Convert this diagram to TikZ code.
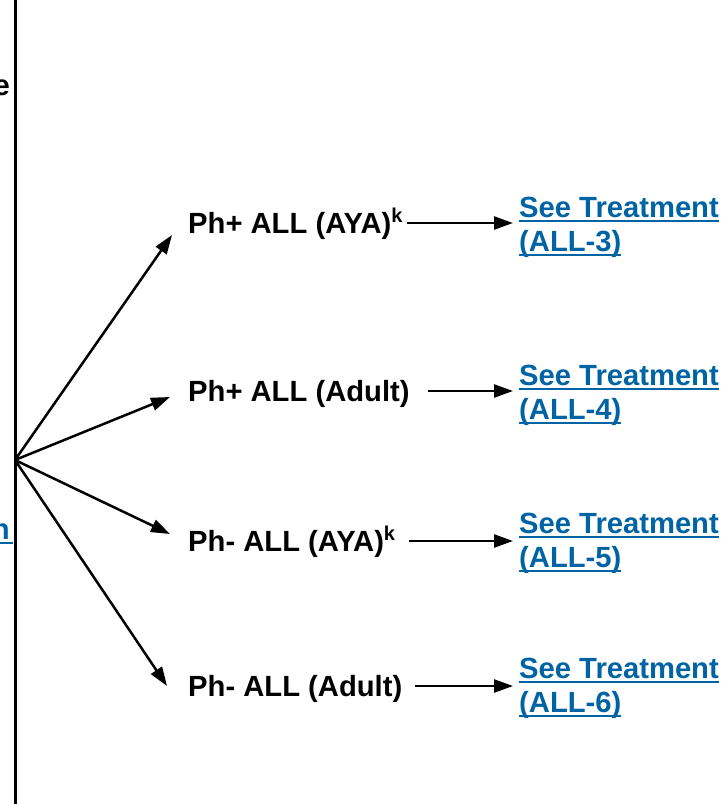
\documentclass[tikz,border=0pt]{standalone}
\usepackage{fontspec}
\setmainfont{Liberation Sans}
\usetikzlibrary{arrows.meta}
\definecolor{linkblue}{RGB}{0,100,164}
\newcommand\ulnk[1]{\setbox0\hbox{#1}\rlap{\rule[-5pt]{\wd0}{2.2pt}}\box0}
\newcommand\supk{\raisebox{11pt}{\fontsize{20}{20}\selectfont k}}
\begin{document}
\begin{tikzpicture}[x=1pt,y=-1pt,
  lbl/.style={font=\fontsize{29.2}{34}\selectfont\bfseries, inner sep=0pt, anchor=west, text height=20.8pt, text depth=0pt},
  lnk/.style={font=\fontsize{29.2}{34}\selectfont\bfseries, text=linkblue, inner sep=0pt, anchor=base west},
  arr/.style={line width=2.5pt, -{Triangle[length=19pt,width=13pt]}, shorten >=6pt}]
\useasboundingbox (0,0) rectangle (725,804);
\draw[line width=3pt] (15,0) -- (15,804);
\coordinate (hub) at (15,460);
\node[lnk, text=black, anchor=base east] (pe) at (10,95) {e};
\node[lnk, anchor=base east] (pn) at (13,539) {\ulnk{n\hspace{3pt}}};

\node[lbl] (t1) at (188,223) {Ph+ ALL (AYA)\supk};
\node[lbl] (t2) at (188,391) {Ph+ ALL (Adult)};
\node[lbl] (t3) at (188,541) {Ph- ALL (AYA)\supk};
\node[lbl] (t4) at (188,686) {Ph- ALL (Adult)};

\node[lnk] (l1a) at (519,217) {\ulnk{See Treatment}};
\node[lnk] (l1b) at (519,251) {\ulnk{(ALL-3)}};
\node[lnk] (l2a) at (519,385) {\ulnk{See Treatment}};
\node[lnk] (l2b) at (519,419) {\ulnk{(ALL-4)}};
\node[lnk] (l3a) at (519,533) {\ulnk{See Treatment}};
\node[lnk] (l3b) at (519,567) {\ulnk{(ALL-5)}};
\node[lnk] (l4a) at (519,678) {\ulnk{See Treatment}};
\node[lnk] (l4b) at (519,712) {\ulnk{(ALL-6)}};

\coordinate (e1) at (172,235);
\coordinate (e2) at (170,397);
\coordinate (e3) at (170,534);
\coordinate (e4) at (167,686);
\begin{scope}[arr/.append style={shorten >=0pt}]
\draw[arr] (hub) -- (e1);
\draw[arr] (hub) -- (e2);
\draw[arr] (hub) -- (e3);
\draw[arr] (hub) -- (e4);
\end{scope}

\draw[arr] ([xshift=4pt]t1.east) -- (l1a.west |- t1.east);
\draw[arr] ([xshift=18pt]t2.east) -- (l2a.west |- t2.east);
\draw[arr] ([xshift=14pt]t3.east) -- (l3a.west |- t3.east);
\draw[arr] ([xshift=13pt]t4.east) -- (l4a.west |- t4.east);
\end{tikzpicture}
\end{document}
